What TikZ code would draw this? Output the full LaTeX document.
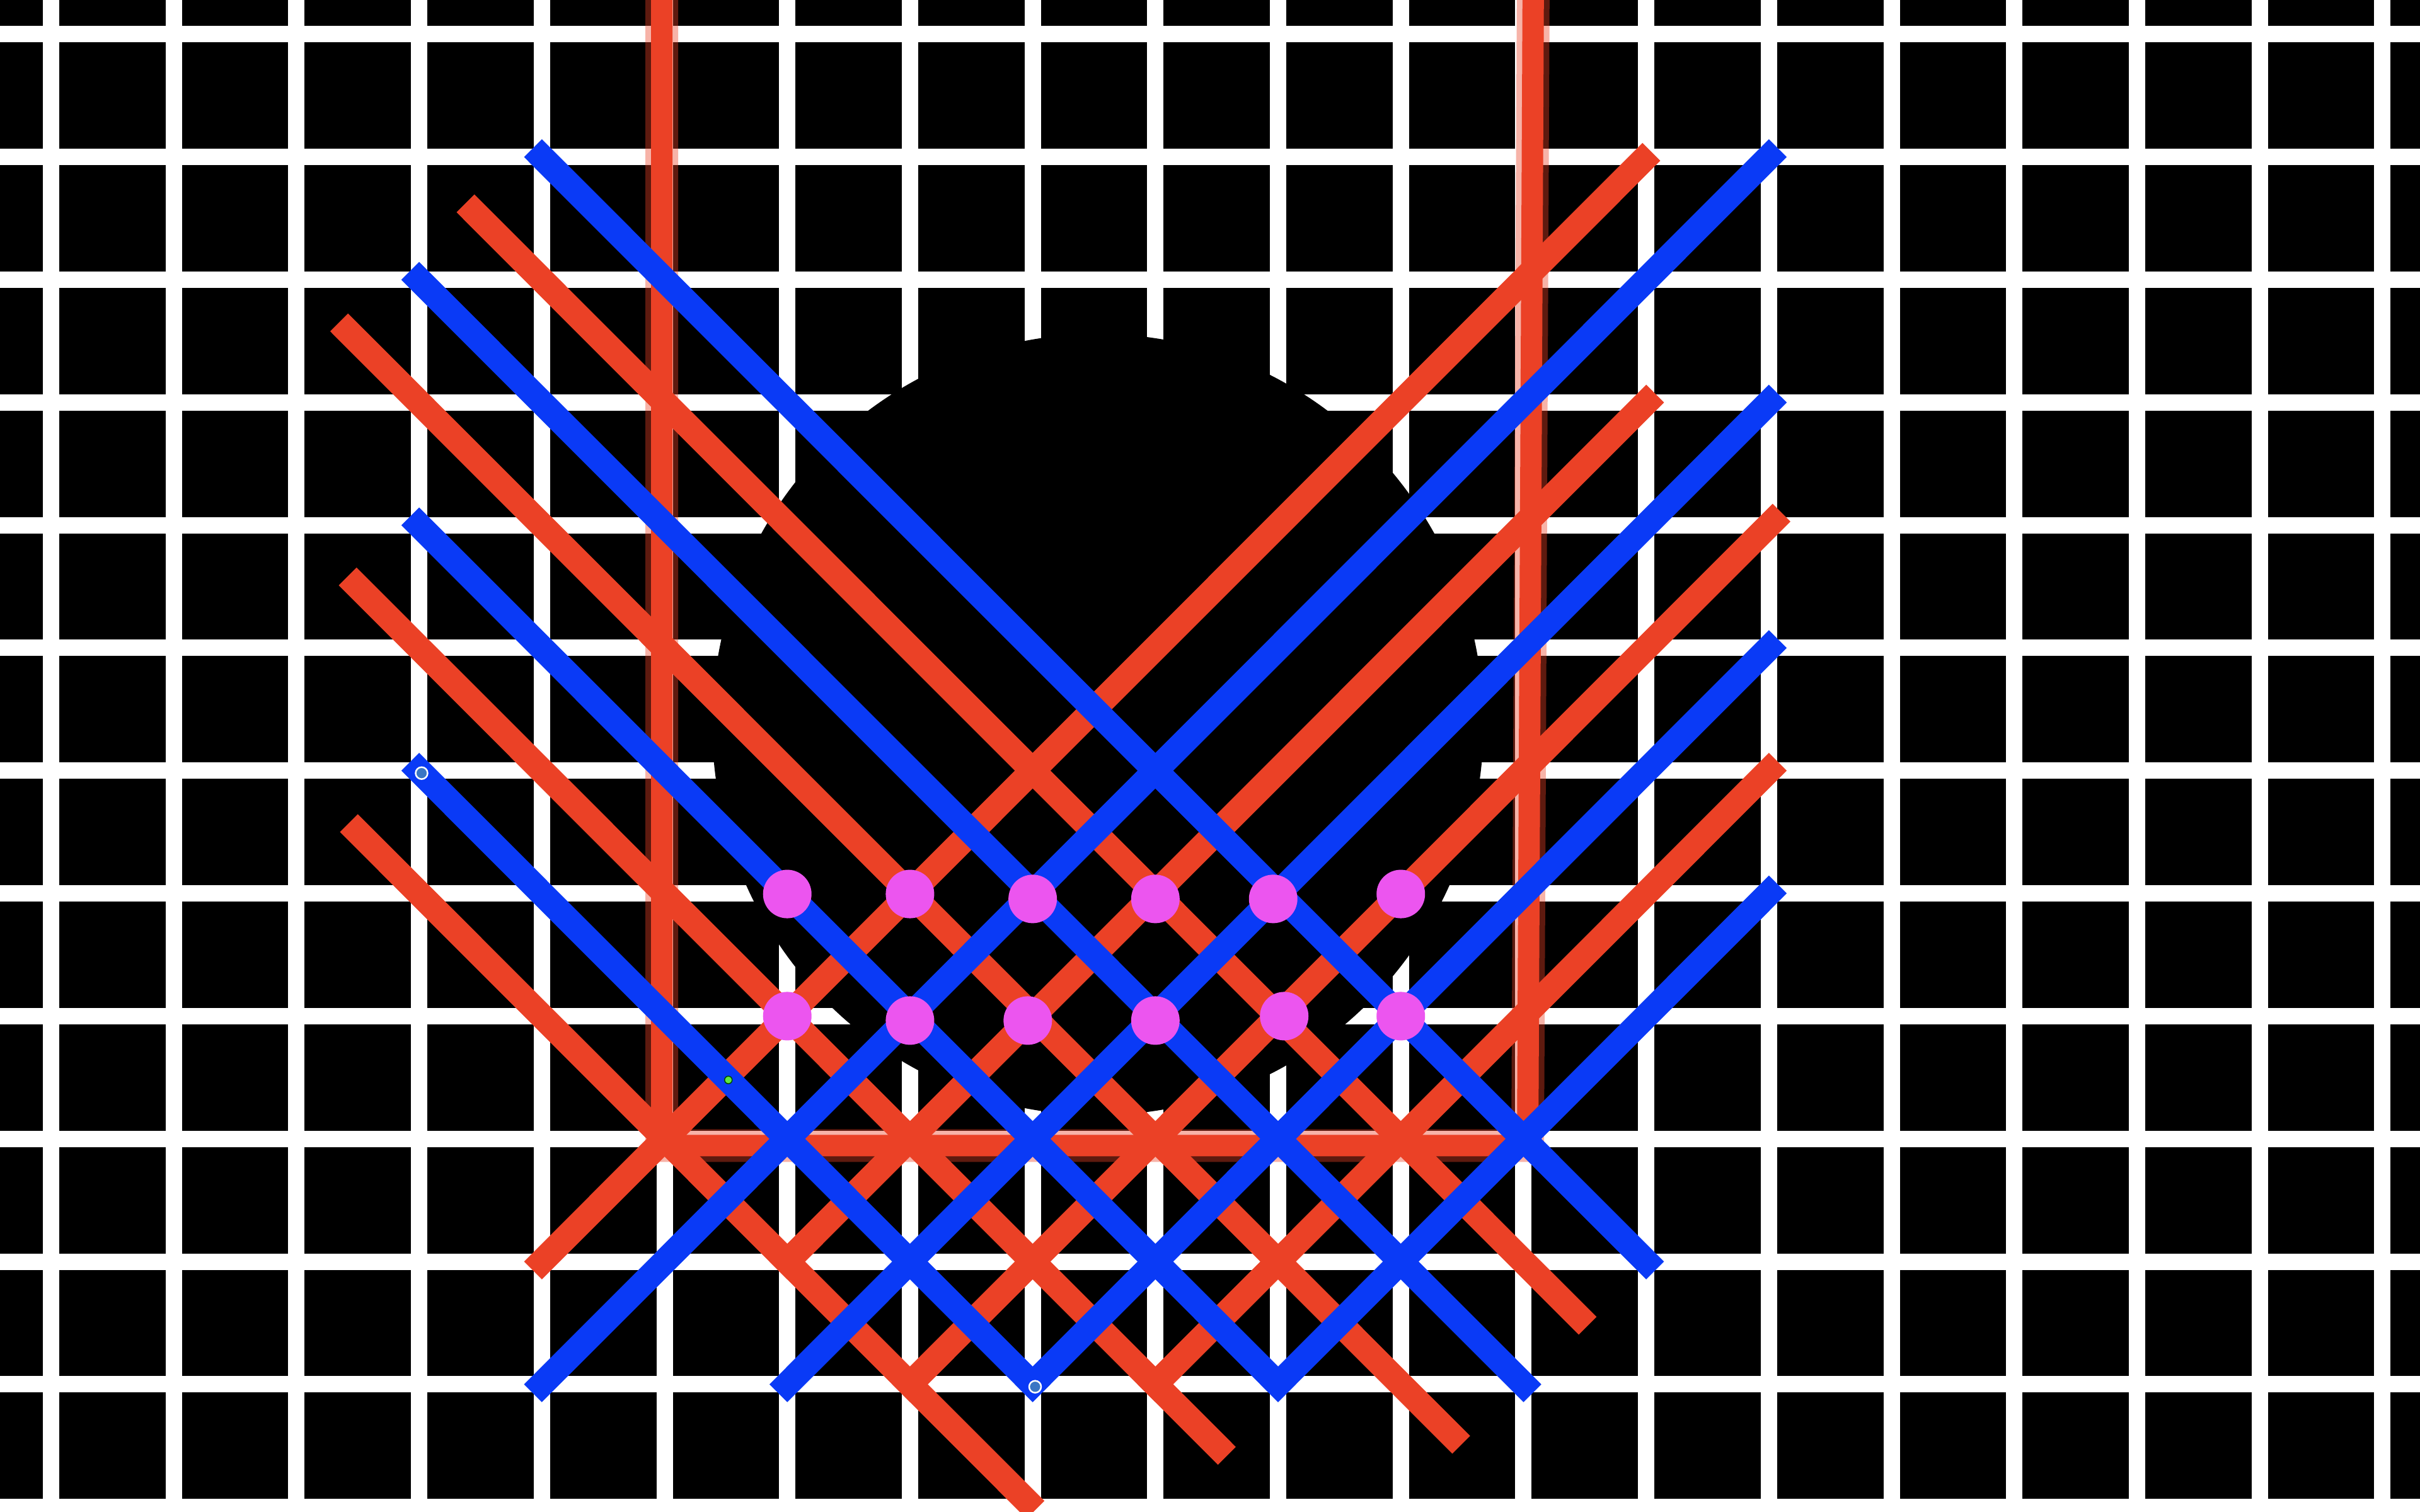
\documentclass[tikz,border=0pt]{standalone}
\definecolor{netblue}{RGB}{10,58,246}
\definecolor{netred}{RGB}{235,65,38}
\definecolor{netpink}{RGB}{236,85,239}
\definecolor{handleblue}{RGB}{58,118,196}
\definecolor{handlegreen}{RGB}{96,232,64}
\begin{document}
\begin{tikzpicture}[x=1.947cm, y=-1.948cm,
  gridline/.style={white, line width=0.26cm},
  blueline/.style={netblue, line width=0.40cm, line cap=rect},
  redline/.style={netred, line width=0.40cm, line cap=rect},
  uhalo/.style={netred, opacity=0.4, line width=0.52cm, line join=miter},
  ucore/.style={netred, line width=0.34cm, line join=miter},
  pinkdot/.style={circle, fill=netpink, minimum size=0.77cm, inner sep=0pt},
  handle/.style={circle, fill=handleblue, draw=white, line width=0.025cm, minimum size=0.19cm, inner sep=0pt},
  midhandle/.style={circle, fill=handlegreen, draw=black!70!green, line width=0.015cm, minimum size=0.12cm, inner sep=0pt}]

\fill[black] (-0.81cm,0.545cm) rectangle (37.59cm,-23.455cm);
\useasboundingbox (-0.81cm,0.545cm) rectangle (37.59cm,-23.455cm);

% grid
\foreach \c in {0,...,19} \draw[gridline] (\c,-0.5) -- (\c,12.5);
\foreach \r in {0,...,12} \draw[gridline] (-0.5,\r) -- (19.5,\r);

% black blob
\fill[black] (8.531,5.624) ellipse [x radius=6.12cm, y radius=6.2cm];

% red U
\coordinate (uTL) at (4.977,-0.5);
\coordinate (uBL) at (4.977,9.055);
\coordinate (uBR) at (12.034,9.055);
\coordinate (uTR) at (12.08,-0.5);
\draw[uhalo] (uTL) -- (uBL) -- (uBR) -- (uTR);
\draw[ucore] (uTL) -- (uBL) -- (uBR) -- (uTR);

% red diagonals
\coordinate (ra1) at (3.45,1.45);  \coordinate (ra2) at (12.45,10.45);
\coordinate (rb1) at (2.42,2.42);  \coordinate (rb2) at (11.42,11.42);
\coordinate (rc1) at (2.49,4.49);  \coordinate (rc2) at (9.51,11.51);
\coordinate (rd1) at (2.5,6.5);    \coordinate (rd2) at (7.95,11.95);
\coordinate (re1) at (4,10);       \coordinate (re2) at (12.97,1.03);
\coordinate (rf1) at (6,10);       \coordinate (rf2) at (13,3);
\coordinate (rg1) at (7,11);       \coordinate (rg2) at (14.03,3.97);
\coordinate (rh1) at (9,11);       \coordinate (rh2) at (14,6);
\foreach \n in {a,b,c,d,e,f,g,h} \draw[redline] (r\n1) -- (r\n2);

% blue diagonals
\coordinate (b1a) at (4,1);   \coordinate (b1b) at (13,10);
\coordinate (b2a) at (3,2);   \coordinate (b2b) at (12,11);
\coordinate (b3a) at (3,4);   \coordinate (b3b) at (10,11);
\coordinate (b4a) at (3,6);   \coordinate (b4b) at (8,11);
\coordinate (b5a) at (4,11);  \coordinate (b5b) at (14,1);
\coordinate (b6a) at (6,11);  \coordinate (b6b) at (14,3);
\coordinate (b7a) at (8,11);  \coordinate (b7b) at (14,5);
\coordinate (b8a) at (10,11); \coordinate (b8b) at (14,7);
\foreach \n in {1,...,8} \draw[blueline] (b\n a) -- (b\n b);

% pink dots
\node[pinkdot] (p1) at (6.0,7.005) {};
\node[pinkdot] (p2) at (7.0,7.005) {};
\node[pinkdot] (p3) at (8.0,7.045) {};
\node[pinkdot] (p4) at (9.0,7.045) {};
\node[pinkdot] (p5) at (9.96,7.045) {};
\node[pinkdot] (p6) at (11.0,7.005) {};
\node[pinkdot] (p7) at (6.0,8.0) {};
\node[pinkdot] (p8) at (7.0,8.036) {};
\node[pinkdot] (p9) at (7.96,8.036) {};
\node[pinkdot] (p10) at (9.0,8.036) {};
\node[pinkdot] (p11) at (10.05,8.0) {};
\node[pinkdot] (p12) at (11.0,8.0) {};

% handles
\node[handle] (h1) at (3.02,6.02) {};
\node[handle] (h2) at (8.02,11.02) {};
\node[midhandle] (hm) at (5.52,8.52) {};
\end{tikzpicture}
\end{document}
